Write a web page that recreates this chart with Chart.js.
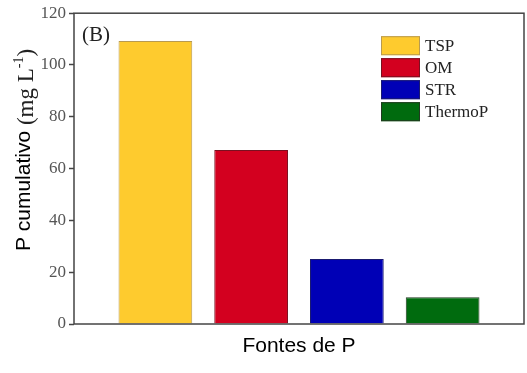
<!DOCTYPE html>
<html>
<head>
<meta charset="utf-8">
<script src="https://cdn.jsdelivr.net/npm/chart.js@4"></script>
<style>
  body { margin: 0; background: #fff; }
</style>
</head>
<body>
<canvas id="chart" width="527" height="373"></canvas>
<script>
const categories = ["TSP", "OM", "STR", "ThermoP"];
const values = [109.3, 67.2, 25.1, 10.3];
const fillColors = ["#fecb2e", "#d3001f", "#0000b6", "#006b0e"];
const edgeColors = ["#b89a50", "#7a1020", "#1a1a70", "#203a20"];
const yTicks = [0, 20, 40, 60, 80, 100, 120];

const serif = "'Liberation Serif', 'Times New Roman', serif";
const sans = "'Liberation Sans', Arial, sans-serif";

// frame + panel letter + legend + mixed-font y title
const decorations = {
  id: "decorations",
  afterDatasetsDraw(chart) {
    const { ctx, chartArea: a } = chart;
    ctx.save();
    ctx.strokeStyle = "#444";
    ctx.lineWidth = 1.5;
    ctx.strokeRect(a.left, a.top, a.right - a.left, a.bottom - a.top);

    ctx.fillStyle = "#222";
    ctx.font = `21px ${serif}`;
    ctx.textBaseline = "alphabetic";
    ctx.fillText("(B)", a.left + 8, a.top + 28);

    // legend
    ctx.font = `17px ${serif}`;
    ctx.textBaseline = "middle";
    categories.forEach((name, i) => {
      const x = a.right - 143;
      const y = a.top + 23 + i * 22;
      ctx.fillStyle = fillColors[i];
      ctx.fillRect(x, y, 39, 19);
      ctx.strokeStyle = edgeColors[i];
      ctx.lineWidth = 1;
      ctx.strokeRect(x + 0.5, y + 0.5, 38, 18);
      ctx.fillStyle = "#222";
      ctx.fillText(name, x + 44, y + 10);
    });
    ctx.restore();
  },
  afterDraw(chart) {
    const { ctx } = chart;
    ctx.save();
    ctx.translate(30, 150);
    ctx.rotate(-Math.PI / 2);
    ctx.textBaseline = "alphabetic";
    ctx.fillStyle = "#000";
    const part1 = "P cumulativo ";
    const part2 = "(mg L";
    const sup = "-1";
    const part3 = ")";
    ctx.font = `21px ${sans}`;
    const w1 = ctx.measureText(part1).width;
    ctx.font = `23px ${serif}`;
    const w2 = ctx.measureText(part2).width;
    const w3 = ctx.measureText(part3).width;
    ctx.font = `14px ${serif}`;
    const ws = ctx.measureText(sup).width;
    let x = -(w1 + w2 + ws + w3) / 2;
    ctx.font = `21px ${sans}`;
    ctx.fillText(part1, x, 0);
    x += w1;
    ctx.font = `23px ${serif}`;
    ctx.fillStyle = "#222";
    ctx.fillText(part2, x, 3);
    x += w2;
    ctx.font = `14px ${serif}`;
    ctx.fillText(sup, x, -7);
    x += ws;
    ctx.font = `23px ${serif}`;
    ctx.fillText(part3, x, 3);
    ctx.restore();
  },
};

new Chart(document.getElementById("chart"), {
  type: "bar",
  data: {
    datasets: [
      {
        data: categories.map((c, i) => ({ x: i, y: values[i] })),
        backgroundColor: fillColors,
        borderColor: edgeColors,
        borderWidth: 1,
        barPercentage: 0.77,
        categoryPercentage: 1,
      },
    ],
  },
  options: {
    responsive: false,
    animation: false,
    layout: { padding: { top: 9, right: 3, left: 0, bottom: 0 } },
    plugins: {
      legend: { display: false },
      tooltip: { enabled: false },
    },
    scales: {
      x: {
        type: "linear",
        offset: false,
        min: -0.85,
        max: 3.85,
        afterBuildTicks(scale) {
          scale.ticks = categories.map((c, i) => ({ value: i }));
        },
        grid: { display: false },
        border: { display: false },
        ticks: { display: false },
        title: {
          display: true,
          text: "Fontes de P",
          color: "#000",
          font: { family: sans, size: 21 },
          padding: { top: 0, bottom: 14 },
        },
        afterFit(scale) {
          scale.height = 49;
        },
      },
      y: {
        min: 0,
        max: 120,
        afterBuildTicks(scale) {
          scale.ticks = yTicks.map((v) => ({ value: v }));
        },
        grid: {
          drawOnChartArea: false,
          drawTicks: true,
          tickLength: 5,
          tickColor: "#444",
          tickWidth: 1.5,
        },
        border: { display: false },
        ticks: {
          color: "#555",
          padding: 3,
          font: { family: serif, size: 17 },
        },
        afterFit(scale) {
          scale.width = 74;
        },
      },
    },
  },
  plugins: [decorations],
});
</script>
</body>
</html>
